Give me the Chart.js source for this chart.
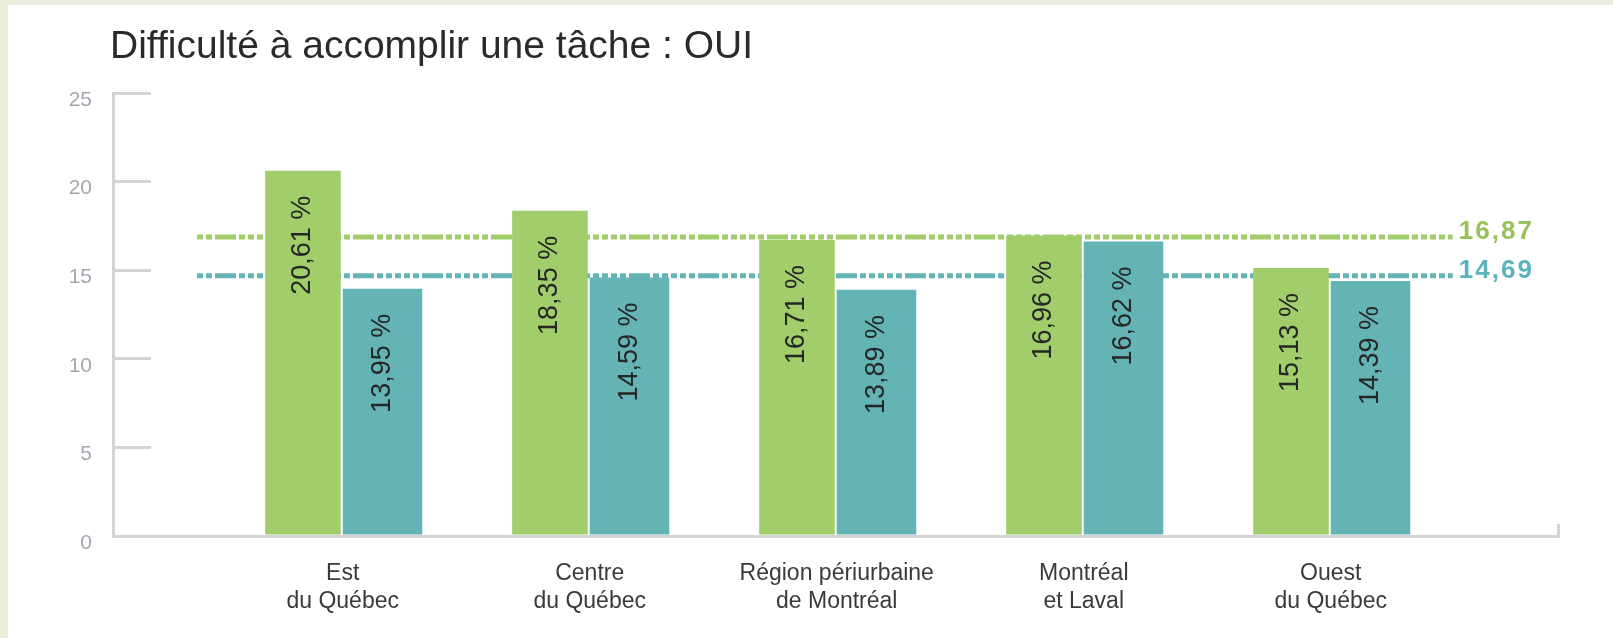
<!DOCTYPE html>
<html>
<head>
<meta charset="utf-8">
<script src="https://cdn.jsdelivr.net/npm/chart.js@4.4.1/dist/chart.umd.min.js"></script>
<style>
html, body { margin: 0; padding: 0; background: #eceedd; }
#wrap { position: absolute; left: 8px; top: 5px; width: 1605px; height: 633px; background: #fff; }
</style>
</head>
<body>
<div id="wrap"><canvas id="chart" width="1605" height="633"></canvas></div>
<script>
// data
const titleText = 'Difficulté à accomplir une tâche : OUI';
const categories = [
	['Est', 'du Québec'],
	['Centre', 'du Québec'],
	['Région périurbaine', 'de Montréal'],
	['Montréal', 'et Laval'],
	['Ouest', 'du Québec'],
];
const greenValues = [20.61, 18.35, 16.71, 16.96, 15.13];
const tealValues = [13.95, 14.59, 13.89, 16.62, 14.39];
const averages = [16.87, 14.69];
const yMax = 25;
const yStep = 5;

// layout
const X_MIN = 0.07, X_MAX = 5.92;
const LINE_START = 0.41, LINE_END = 5.494;
const DASH = [21, 3, 6, 3, 6, 3, 6, 3, 6, 3, 6, 3];
const green = '#a1cd6b';
const teal = '#64b4b5';
const axisGray = '#d4d4d4';

const fmt = v => v.toFixed(2).replace('.', ',');

Chart.defaults.font.family = '"Liberation Sans", Arial, sans-serif';

const titlePlugin = {
	id: 'titleText',
	afterDraw(chart) {
		const ctx = chart.ctx;
		ctx.save();
		ctx.font = '39px "Liberation Sans", Arial, sans-serif';
		ctx.fillStyle = '#2a2a2a';
		ctx.textBaseline = 'alphabetic';
		ctx.fillText(titleText, 102, 53);
		ctx.restore();
	}
};

const labelPlugin = {
	id: 'valueLabels',
	afterDatasetsDraw(chart) {
		const ctx = chart.ctx;
		chart.data.datasets.forEach(function(ds, i) {
			const meta = chart.getDatasetMeta(i);
			if (ds.type === 'line') {
				const last = meta.data[meta.data.length - 1];
				ctx.save();
				ctx.font = 'bold 26px "Liberation Sans", Arial, sans-serif';
				ctx.letterSpacing = '2px';
				ctx.fillStyle = ds.labelColor;
				ctx.textAlign = 'left';
				ctx.textBaseline = 'alphabetic';
				ctx.fillText(fmt(ds.data[1].y), last.x + 6, last.y + 2);
				ctx.restore();
				return;
			}
			meta.data.forEach(function(bar, j) {
				ctx.save();
				ctx.font = '27px "Liberation Sans", Arial, sans-serif';
				ctx.fillStyle = '#262626';
				ctx.translate(bar.x, bar.y + 25);
				ctx.rotate(-Math.PI / 2);
				ctx.textAlign = 'right';
				ctx.textBaseline = 'middle';
				ctx.fillText(fmt(ds.data[j].y) + ' %', 0, 0);
				ctx.restore();
			});
		});
	}
};

const greenBars = {
	label: 'Série 1',
	data: greenValues.map((v, i) => ({x: i + 1, y: v})),
	backgroundColor: green,
	borderWidth: 0,
	barPercentage: 0.95,
	order: 1,
};
const tealBars = {
	label: 'Série 2',
	data: tealValues.map((v, i) => ({x: i + 1, y: v})),
	backgroundColor: teal,
	borderWidth: 0,
	barPercentage: 1.0,
	order: 1,
};
const avgLines = averages.map(function(avg, k) {
	return {
		type: 'line',
		label: 'Moyenne',
		data: [{x: LINE_START, y: avg}, {x: LINE_END, y: avg}],
		borderColor: k === 0 ? green : teal,
		labelColor: k === 0 ? '#97c25a' : '#5ab3bd',
		borderWidth: 5,
		borderDash: DASH,
		borderDashOffset: 51,
		borderCapStyle: 'butt',
		pointRadius: 0,
		fill: false,
		order: 2,
	};
});

const ctx = document.getElementById('chart').getContext('2d');
const chart = new Chart(ctx, {
	type: 'bar',
	data: {
		datasets: [greenBars, tealBars, ...avgLines],
	},
	options: {
		responsive: false,
		animation: false,
		categoryPercentage: 0.70,
		layout: {
			padding: {left: 0, right: 55, top: 88, bottom: 0}
		},
		plugins: {
			legend: {display: false},
			tooltip: {enabled: false},
			title: {display: false},
		},
		scales: {
			x: {
				type: 'linear',
				min: X_MIN,
				max: X_MAX,
				bounds: 'data',
				offset: false,
				afterBuildTicks: function(scale) {
					scale.ticks = [1, 2, 3, 4, 5, X_MAX].map(v => ({value: v}));
				},
				afterFit: function(scale) {
					scale.height = 102;
				},
				grid: {
					offset: false,
					drawOnChartArea: false,
					drawTicks: true,
					tickLength: -12,
					lineWidth: 3,
					color: function(c) {
						return c.tick && c.tick.value === X_MAX ? axisGray : 'rgba(0,0,0,0)';
					},
				},
				border: {color: axisGray, width: 3},
				ticks: {
					autoSkip: false,
					maxRotation: 0,
					padding: 36,
					color: '#3a3a3a',
					font: {size: 23, lineHeight: 1.2174},
					callback: function(value) {
						return categories[value - 1] || '';
					}
				}
			},
			y: {
				min: 0,
				max: yMax,
				afterFit: function(scale) {
					scale.width = 105;
				},
				grid: {
					drawOnChartArea: false,
					drawTicks: true,
					tickLength: -38,
					lineWidth: 3,
					color: axisGray,
				},
				border: {color: axisGray, width: 3},
				ticks: {
					stepSize: yStep,
					padding: 59,
					labelOffset: 7,
					color: '#a3a7b1',
					font: {size: 21},
				}
			}
		}
	},
	plugins: [titlePlugin, labelPlugin],
});
</script>
</body>
</html>
